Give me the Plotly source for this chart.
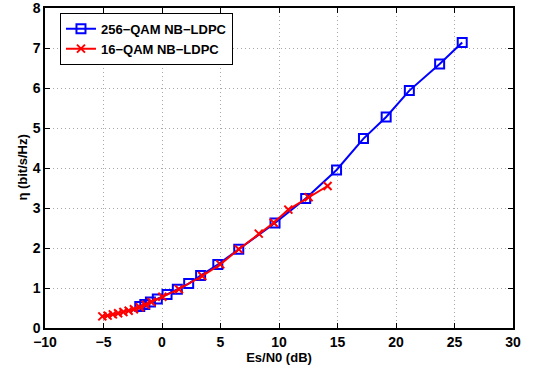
import plotly.graph_objects as go

# Data
qam256_snr = [-1.9, -1.47, -0.99, -0.4, 0.43, 1.31, 2.28, 3.3, 4.77, 6.56,
              9.66, 12.28, 14.92, 17.22, 19.16, 21.14, 23.73, 25.66]
qam256_eff = [0.54, 0.59, 0.65, 0.725, 0.84, 0.97, 1.11, 1.31, 1.585, 1.97,
              2.625, 3.235, 3.95, 4.735, 5.275, 5.935, 6.6, 7.135]

qam16_snr = [-5.1, -4.65, -4.2, -3.75, -3.3, -2.85, -2.4, -1.9, -1.4, -0.9,
             0.03, 1.45, 3.44, 4.98, 6.56, 8.27, 9.55, 10.8, 12.53, 14.15]
qam16_eff = [0.29, 0.31, 0.34, 0.37, 0.40, 0.43, 0.47, 0.52, 0.58, 0.65,
             0.78, 0.97, 1.30, 1.59, 1.97, 2.36, 2.63, 2.96, 3.27, 3.55]

x_ticks = [-10, -5, 0, 5, 10, 15, 20, 25, 30]
y_ticks = [0, 1, 2, 3, 4, 5, 6, 7, 8]

x_title = "Es/N0 (dB)"
y_title = "\u03b7 (bit/s/Hz)"

font_family = "Liberation Sans, Arial, sans-serif"

fig = go.Figure()
fig.add_trace(go.Scatter(
    x=qam256_snr, y=qam256_eff, mode="lines+markers",
    name="<b>256\u2212QAM NB\u2212LDPC</b>",
    line=dict(color="#0000ff", width=2),
    marker=dict(symbol="square-open", size=9, color="#0000ff",
                line=dict(color="#0000ff", width=2)),
))
fig.add_trace(go.Scatter(
    x=qam16_snr, y=qam16_eff, mode="lines+markers",
    name="<b>16\u2212QAM NB\u2212LDPC</b>",
    line=dict(color="#ff0000", width=2),
    marker=dict(symbol="x-thin", size=8, color="#ff0000",
                line=dict(color="#ff0000", width=2)),
))

def lbl(v):
    s = ("\u2212" + str(-v)) if v < 0 else str(v)
    return "<b>" + s + "</b>"

axis_common = dict(
    showline=True, linecolor="black", linewidth=1.5, mirror="ticks",
    ticks="inside", ticklen=5, tickcolor="black", tickwidth=1,
    showgrid=True, gridcolor="#a8a8a8", griddash="1px,3px", gridwidth=1,
    zeroline=False, automargin=False, ticklabeloverflow="allow",
    tickfont=dict(family=font_family, size=14, color="black"),
)

fig.update_layout(
    width=533, height=365,
    margin=dict(l=45, r=20, t=8, b=37),
    paper_bgcolor="white", plot_bgcolor="white",
    font=dict(family=font_family, color="black"),
    xaxis=dict(range=[-10, 30], tickvals=x_ticks,
               ticktext=[lbl(v) for v in x_ticks],
               title=dict(text="<b>" + x_title + "</b>", font=dict(size=13)),
               **axis_common),
    yaxis=dict(range=[0, 8], tickvals=y_ticks,
               ticktext=[lbl(v) for v in y_ticks],
               **axis_common),
    legend=dict(x=0.032, y=0.985, xanchor="left", yanchor="top",
                bgcolor="white", bordercolor="black", borderwidth=1,
                font=dict(family=font_family, size=13, color="black"),
                tracegroupgap=0, itemwidth=30),
    showlegend=True,
)

fig.add_annotation(
    text="<b>" + y_title + "</b>", textangle=-90,
    xref="paper", yref="paper", x=-0.05, y=0.5,
    xanchor="center", yanchor="middle", showarrow=False,
    font=dict(family=font_family, size=13, color="black"),
)

fig.write_html("out.html",
               config={"displayModeBar": False},
               post_script="document.body.style.margin='0';document.body.style.overflow='hidden';")
